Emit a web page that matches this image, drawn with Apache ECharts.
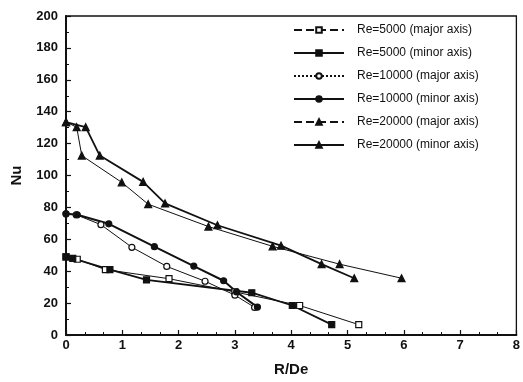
<!DOCTYPE html>
<html>
<head>
<meta charset="utf-8">
<script src="https://cdn.jsdelivr.net/npm/echarts@6/dist/echarts.min.js"></script>
<style>html,body{margin:0;padding:0;background:#fff}#c{width:523px;height:382px}</style>
</head>
<body>
<div id="c"></div>
<script>
var seriesNames = ['Re=5000 (major axis)','Re=5000 (minor axis)','Re=10000 (major axis)','Re=10000 (minor axis)','Re=20000 (major axis)','Re=20000 (minor axis)'];
var re5000Major = [[0,49],[0.2,47.5],[0.7,41],[1.83,35.3],[3.0,27],[4.15,18.5],[5.2,6.5]];
var re5000Minor = [[0,49],[0.12,48],[0.78,41],[1.43,34.5],[3.3,26.5],[4.02,18.5],[4.72,6.5]];
var re10000Major = [[0,76],[0.18,75.4],[0.62,69.2],[1.17,55],[1.79,43],[2.47,33.7],[3.0,25],[3.35,17.3]];
var re10000Minor = [[0,76],[0.2,75.4],[0.76,69.7],[1.57,55.4],[2.27,43.2],[2.8,34],[3.03,27],[3.4,17.5]];
var re20000Major = [[0,133.5],[0.19,130.3],[0.28,112.5],[0.99,95.7],[1.46,82],[2.53,68],[3.67,55.6],[4.86,44.4],[5.96,35.6]];
var re20000Minor = [[0,133.5],[0.35,130.3],[0.6,112.5],[1.37,96],[1.76,82.5],[2.69,68.8],[3.82,56],[4.54,44.4],[5.12,35.6]];
var xTicks = [0,1,2,3,4,5,6,7,8];
var yTicks = [0,20,40,60,80,100,120,140,160,180,200];

var datasets = [re5000Major, re5000Minor, re10000Major, re10000Minor, re20000Major, re20000Minor];
var symbols = ['rect','rect','circle','circle','triangle','triangle'];
var filled = [false,true,false,true,true,true];
var widths = [1,1.8,1,2,1,1.8];
var lineTypes = ['dashed','solid','dotted','solid','dashed','solid'];

var chart = echarts.init(document.getElementById('c'));
var series = datasets.map(function(d,i){
  return {
    name: seriesNames[i],
    type: 'line',
    data: d,
    symbol: symbols[i],
    symbolSize: symbols[i]==='triangle' ? 7 : 6,
    showAllSymbol: true,
    animation: false,
    lineStyle: {color:'#111', width: widths[i], type: 'solid'},
    itemStyle: {color: filled[i] ? '#111' : '#fff', borderColor:'#111', borderWidth: 1.2},
    emphasis: {disabled:true}
  };
});
var font = 'Liberation Sans, Arial, Helvetica, sans-serif';
chart.setOption({
  animation: false,
  backgroundColor: '#fff',
  grid: {left:66, right:6, top:16, bottom:39, show:true, borderColor:'#111', borderWidth:1.3, backgroundColor:'transparent'},
  legend: {
    orient:'vertical', left:288, top:19, itemWidth:50, itemHeight:7, itemGap:11,
    data: seriesNames.map(function(n,i){return {name:n, itemStyle:{color: filled[i]?'#111':'#fff', borderColor:'#111'}, lineStyle:{type: lineTypes[i]}};}),
    textStyle:{fontFamily:font, fontSize:12, color:'#111', padding:[0,0,0,8]},
    selectedMode:false
  },
  xAxis: {
    type:'value', min:0, max:8, interval:1,
    name:'R/De', nameLocation:'middle', nameGap:27,
    nameTextStyle:{fontFamily:font, fontWeight:'bold', fontSize:15, color:'#111'},
    axisLine:{show:true, lineStyle:{color:'#111', width:2}},
    axisTick:{show:true, inside:true, length:5, lineStyle:{color:'#111', width:1.2}},
    minorTick:{show:true, splitNumber:3, length:3, lineStyle:{color:'#111', width:1}},
    axisLabel:{fontFamily:font, fontWeight:'bold', fontSize:13, color:'#111', margin:4},
    splitLine:{show:false}
  },
  yAxis: {
    type:'value', min:0, max:200, interval:20,
    name:'Nu', nameLocation:'middle', nameGap:42, nameRotate:90,
    nameTextStyle:{fontFamily:font, fontWeight:'bold', fontSize:15, color:'#111'},
    axisLine:{show:true, lineStyle:{color:'#111', width:2}},
    axisTick:{show:true, inside:true, length:5, lineStyle:{color:'#111', width:1.2}},
    minorTick:{show:true, splitNumber:2, length:3, lineStyle:{color:'#111', width:1}},
    axisLabel:{fontFamily:font, fontWeight:'bold', fontSize:13, color:'#111', margin:8},
    splitLine:{show:false}
  },
  series: series
});
</script>
</body>
</html>
